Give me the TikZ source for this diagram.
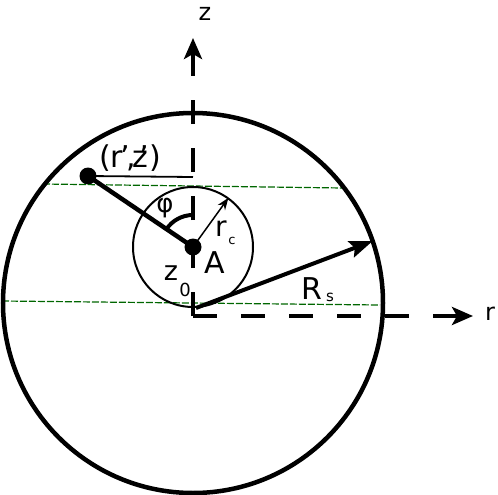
\documentclass[tikz,border=0pt]{standalone}
\usepackage{fontspec}
\setmainfont{DejaVu Sans}
\usetikzlibrary{arrows.meta,positioning}

\begin{document}
\begin{tikzpicture}[x=1pt,y=-1pt,
		axisline/.style={line width=4.5pt, dash pattern=on 24pt off 24pt, -{Stealth[length=21pt,width=18pt,inset=5pt]}},
		heavyline/.style={line width=4.5pt},
		fineline/.style={line width=1.8pt},
		chord/.style={draw=green!40!black, line width=1.2pt, dash pattern=on 7pt off 2pt},
		dotnode/.style={circle, fill=black, inner sep=0pt, minimum size=17pt},
		lbl/.style={font=\fontsize{30}{32}\selectfont, inner sep=0pt},
		axlbl/.style={font=\fontsize{24}{26}\selectfont, inner sep=0pt},
		sublbl/.style={font=\fontsize{14}{16}\selectfont, inner sep=0pt},
	]
	\useasboundingbox (0,0) rectangle (498,495);

	%Points
	\coordinate (O) at (193,316);
	\coordinate (C) at (193,303);
	\coordinate (zend) at (193,38);
	\coordinate (rend) at (473,316);
	\coordinate (Rs0) at (196,308);
	\coordinate (Rs1) at (372.6,241.1);
	\coordinate (rc1) at (228.4,197.9);
	\coordinate (foot) at (193,177);

	%Nodes
	\node[dotnode]	(A)		at (193,247)	{};
	\node[dotnode]	(P)		at (88,176)		{};

	%Chords
	\draw[chord]	(43,184) -- (343,188);
	\draw[chord]	(2,301) -- (380,305);

	%Circles
	\draw[heavyline]	(C) circle [radius=190pt];
	\draw[line width=2pt]	(A.center) circle [radius=60pt];

	%Axes
	\draw[axisline]	(O) -- (zend);
	\draw[axisline]	(O) -- (rend);

	%Lines
	\draw[heavyline]	(A.center) -- (P.center);
	\draw[fineline]	(P.center) -- (foot);
	\draw[line width=4pt]	(193,215) arc [start angle=90, end angle=146, radius=32pt];
	\draw[line width=1.5pt, -{Stealth[length=12pt,width=9pt]}]	(A.center) -- (rc1);
	\draw[line width=4pt, -{Stealth[length=23pt,width=17pt,inset=4pt]}]	(Rs0) -- (Rs1);

	%Labels
	\node[axlbl]	(zlbl)	at (205,14)		{z};
	\node[axlbl]	(rlbl)	at (490,314)	{r};
	\node[lbl]	(Plbl)	at (130,158)	{(r\kern-0.1em'\kern-0.12em,\kern-0.1em z\kern-0.3em')};
	\node[font=\fontsize{26}{28}\selectfont, inner sep=0pt]	(phi)	at (165,208)	{φ};
	\node[font=\fontsize{28}{30}\selectfont, inner sep=0pt]	(rc)	at (221,229)	{r};
	\node[sublbl, font=\fontsize{13}{15}\selectfont]	(rcsub)	at (232,241)	{c};
	\node[lbl]	(Albl)	at (215,263)	{A};
	\node[font=\fontsize{27}{29}\selectfont, inner sep=0pt]	(z0)	at (171,273)	{z};
	\node[font=\fontsize{18}{20}\selectfont, inner sep=0pt]	(z0sub)	at (185,290)	{0};
	\node[lbl]	(Rs)	at (312,289)	{R};
	\node[sublbl, font=\fontsize{15}{17}\selectfont]	(Rssub)	at (330,297)	{s};

\end{tikzpicture}
\end{document}
